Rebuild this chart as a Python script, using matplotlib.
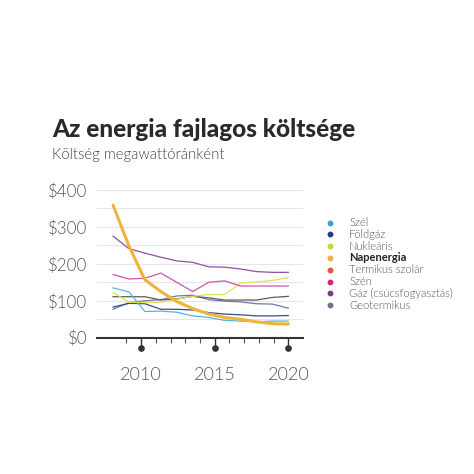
import matplotlib
matplotlib.use("Agg")
import matplotlib.pyplot as plt
import matplotlib.transforms as mtransforms

# Lazard-style LCOE, $/MWh
years = [2009, 2010, 2011, 2012, 2013, 2014, 2015, 2016, 2017, 2018, 2019, 2020]
wind = [135, 124, 71, 72, 69, 59, 55, 47, 45, 43, 45, 45]
gas_cc = [83, 93, 92, 77, 77, 75, 68, 64, 62, 59, 59, 60]
nuclear = [123, 96, 95, 96, 104, 112, 117, 117, 148, 151, 155, 163]
solar = [359, 248, 157, 125, 98, 79, 64, 55, 50, 43, 38, 37]
pink = [171, 159, 161, 175, 150, 125, 150, 154, 140, 140, 140, 140]
gas_peak = [275, 241, 229, 218, 208, 204, 192, 191, 186, 179, 177, 177]
coal = [111, 111, 111, 102, 105, 112, 108, 102, 102, 102, 109, 112]
geo = [77, 95, 100, 103, 113, 115, 103, 99, 97, 92, 91, 80]

leg_labels = ["Szél", "Földgáz", "Nukleáris", "Napenergia", "Termikus szolár",
              "Szén", "Gáz (csúcsfogyasztás)", "Geotermikus"]
leg_colors = ["#3a9fd0", "#273b7a", "#c9d33c", "#f0b040", "#e05545",
              "#c82a7c", "#7e3a8a", "#70708a"]

tick_years = [2010, 2015, 2020]
y_ticks = [0, 100, 200, 300, 400]

W = 474.0
fig = plt.figure(figsize=(4.74, 4.74), dpi=100)
fig.patch.set_facecolor("white")

ax = fig.add_axes([97 / W, (W - 337.7) / W, 206 / W, 147.7 / W])
ax.set_ylim(0, 400)
ax.set_xlim(2007, 2021)
for s in ["top", "right", "left"]:
    ax.spines[s].set_visible(False)
ax.spines["bottom"].set_color("#333333")
ax.spines["bottom"].set_linewidth(1.5)
ax.set_yticks(y_ticks, ["$" + str(v) for v in y_ticks])
ax.set_yticks(range(0, 401, 50), minor=True)
ax.grid(axis="y", which="both", color="#e6e6e6", linewidth=0.8)
ax.set_axisbelow(True)
ax.tick_params(axis="y", which="both", length=0, pad=7, labelsize=12.2,
               labelcolor="#555555")
ax.set_xticks(tick_years, [str(t) for t in tick_years])
ax.set_xticks([y for y in range(2009, 2020) if y not in tick_years], minor=True)
ax.tick_params(axis="x", which="major", length=7.5, width=1, color="#333333",
               pad=13.5, labelsize=13, labelcolor="#555555")
ax.tick_params(axis="x", which="minor", length=3.5, width=0.8, color="#555555")
for lab in ax.get_xticklabels() + ax.get_yticklabels():
    lab.set_family("Lato")
    lab.set_fontweight(300)

trans = mtransforms.blended_transform_factory(ax.transData, ax.transAxes)
ax.plot(tick_years, [-0.071] * len(tick_years), "o", color="#333333",
        markersize=3.8, transform=trans, clip_on=False)

# lines sit on their own year scale under the tick axis
k = 47.64 / 44.0
ax2 = ax.twiny()
ax2.set_xlim(2020 - 13 / k, 2020 + 1 / k)
ax2.set_xticks([])
for s in ax2.spines.values():
    s.set_visible(False)

ax2.plot(years, geo, color="#7474b0", lw=0.9)
ax2.plot(years, coal, color="#5a5a66", lw=0.9)
ax2.plot(years, gas_cc, color="#3b4a8a", lw=0.9)
ax2.plot(years, wind, color="#55b4e0", lw=0.9)
ax2.plot(years, nuclear, color="#e4e056", lw=0.9)
ax2.plot(years, pink, color="#cc55b0", lw=0.9)
ax2.plot(years, gas_peak, color="#8e52a0", lw=0.9)
ax2.plot(years, solar, color="#f0b43c", lw=2.2, solid_capstyle="round")

fig.text(52 / W, (W - 137) / W, "Az energia fajlagos költsége", family="Lato",
         fontweight=900, fontsize=17.6, color="#2a2a2a", va="baseline")
fig.text(52 / W, (W - 158.5) / W, "Költség megawattóránként", family="Lato",
         fontweight=300, fontsize=10.7, color="#444444", va="baseline")

for i, (lab, col) in enumerate(zip(leg_labels, leg_colors)):
    yy = (W - (222.5 + 11.8 * i)) / W
    fig.lines.append(plt.Line2D([330 / W], [yy], marker="o", markersize=3.2,
                                color=col, transform=fig.transFigure))
    bold = lab == "Napenergia"
    fig.text(349 / W, yy, lab, family="Lato", fontsize=8,
             fontweight=700 if bold else 300,
             color="#222222" if bold else "#555555", va="center")

fig.savefig("out.png", dpi=100, facecolor="white")
